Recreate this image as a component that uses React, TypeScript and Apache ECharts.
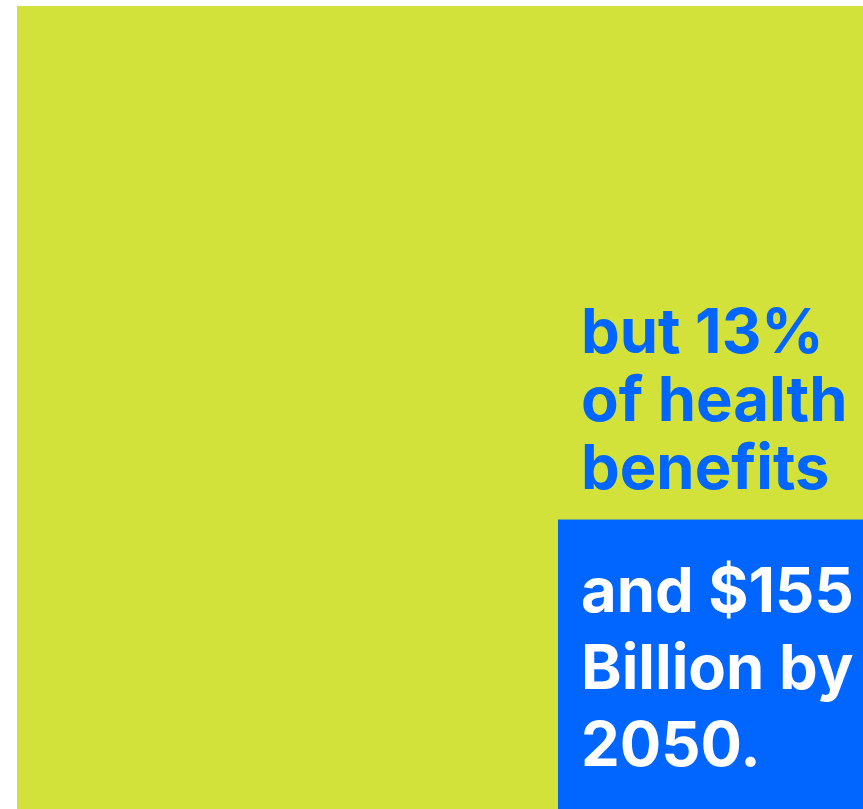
import React, { useEffect, useRef } from "react";
import * as echarts from "echarts";

const categories = ["All benefits", "Health benefits"];
const shares = [100, 13];
const colors = ["#d3e23a", "#0066ff"];
const aboveLabel = "but 13%\nof health\nbenefits";
const insideLabel = "and $155\nBillion by\n2050.";

export default function App() {
  const ref = useRef<HTMLDivElement>(null);
  useEffect(() => {
    if (!ref.current) return;
    const chart = echarts.init(ref.current, undefined, { renderer: "svg" });
    const data = categories.map((name, i) => ({ name, value: [shares[i]] }));
    chart.setOption({
      animation: false,
      grid: { left: 17, top: 6, right: 0, bottom: 0 },
      xAxis: { type: "value", min: 0, max: 1, show: false },
      yAxis: { type: "value", min: 0, max: 1, show: false },
      series: [
        {
          type: "custom",
          data,
          renderItem: (params: any, api: any) => {
            const share = api.value(0) / 100;
            const s = Math.sqrt(share);
            const p0 = api.coord([1 - s, s]);
            const p1 = api.coord([1, 0]);
            const rect = { x: p0[0], y: p0[1], width: p1[0] - p0[0], height: p1[1] - p0[1] };
            const children: any[] = [
              { type: "rect", shape: rect, style: { fill: colors[params.dataIndex] } },
            ];
            if (params.dataIndex === 1) {
              children.push({
                type: "text",
                style: {
                  text: aboveLabel,
                  x: rect.x + 23,
                  y: rect.y - 19,
                  fill: colors[1],
                  fontFamily: "Inter",
                  fontWeight: 700,
                  fontSize: 61.5,
                  lineHeight: 68,
                  verticalAlign: "bottom",
                  align: "left",
                },
              });
              children.push({
                type: "text",
                style: {
                  text: insideLabel,
                  x: rect.x + 23,
                  y: rect.y + 32,
                  fill: "#ffffff",
                  fontFamily: "Inter",
                  fontWeight: 700,
                  fontSize: 61.5,
                  lineHeight: 77,
                  verticalAlign: "top",
                  align: "left",
                },
              });
            }
            return { type: "group", children };
          },
        },
      ],
    });
    return () => chart.dispose();
  }, []);
  return (
    <div
      ref={ref}
      style={{ position: "fixed", left: 0, top: 0, width: 863, height: 809 }}
    />
  );
}
